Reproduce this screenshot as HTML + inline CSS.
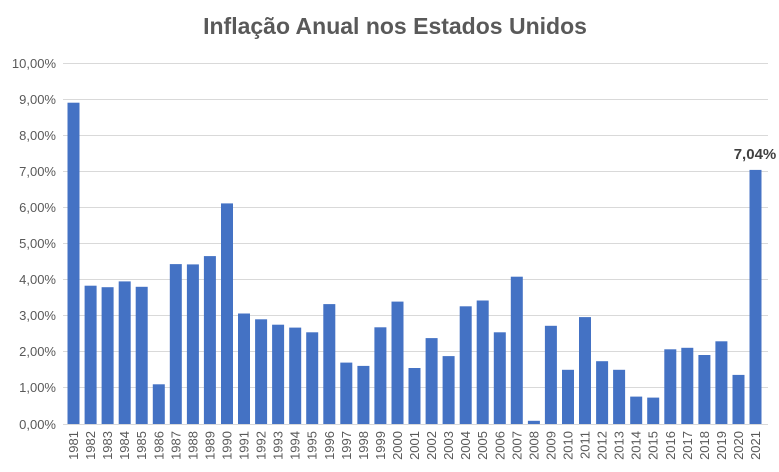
<!DOCTYPE html><html><head><meta charset="utf-8"><style>body{margin:0;background:#fff}svg{display:block;font-family:"Liberation Sans",sans-serif}</style></head><body>
<svg width="779" height="472" xmlns="http://www.w3.org/2000/svg">
<text x="395" y="34" text-anchor="middle" font-size="23" font-weight="bold" fill="#595959">Inflação Anual nos Estados Unidos</text>
<g stroke="#d9d9d9" stroke-width="1">
<line x1="63" x2="768" y1="63.5" y2="63.5"/><line x1="63" x2="768" y1="99.5" y2="99.5"/><line x1="63" x2="768" y1="135.5" y2="135.5"/><line x1="63" x2="768" y1="171.5" y2="171.5"/><line x1="63" x2="768" y1="207.5" y2="207.5"/><line x1="63" x2="768" y1="243.5" y2="243.5"/><line x1="63" x2="768" y1="279.5" y2="279.5"/><line x1="63" x2="768" y1="315.5" y2="315.5"/><line x1="63" x2="768" y1="351.5" y2="351.5"/><line x1="63" x2="768" y1="387.5" y2="387.5"/><line x1="63" x2="768" y1="424.5" y2="424.5"/></g>
<g font-size="13" fill="#595959" text-anchor="end">
<text x="56" y="68">10,00%</text><text x="56" y="104">9,00%</text><text x="56" y="140">8,00%</text><text x="56" y="176">7,00%</text><text x="56" y="212">6,00%</text><text x="56" y="248">5,00%</text><text x="56" y="284">4,00%</text><text x="56" y="320">3,00%</text><text x="56" y="356">2,00%</text><text x="56" y="392">1,00%</text><text x="56" y="429">0,00%</text></g>
<g fill="#4472c4">
<rect x="67.5" y="102.7" width="12" height="321.3"/><rect x="84.6" y="285.7" width="12" height="138.3"/><rect x="101.6" y="287.2" width="12" height="136.8"/><rect x="118.7" y="281.4" width="12" height="142.6"/><rect x="135.7" y="286.8" width="12" height="137.2"/><rect x="152.8" y="384.3" width="12" height="39.7"/><rect x="169.8" y="264.1" width="12" height="159.9"/><rect x="186.9" y="264.4" width="12" height="159.6"/><rect x="203.9" y="256.1" width="12" height="167.9"/><rect x="221" y="203.4" width="12" height="220.6"/><rect x="238" y="313.5" width="12" height="110.5"/><rect x="255.1" y="319.3" width="12" height="104.7"/><rect x="272.1" y="324.7" width="12" height="99.3"/><rect x="289.2" y="327.6" width="12" height="96.4"/><rect x="306.2" y="332.3" width="12" height="91.7"/><rect x="323.3" y="304.1" width="12" height="119.9"/><rect x="340.3" y="362.6" width="12" height="61.4"/><rect x="357.4" y="365.9" width="12" height="58.1"/><rect x="374.4" y="327.3" width="12" height="96.7"/><rect x="391.5" y="301.6" width="12" height="122.4"/><rect x="408.5" y="368" width="12" height="56"/><rect x="425.6" y="338.1" width="12" height="85.9"/><rect x="442.6" y="356.1" width="12" height="67.9"/><rect x="459.7" y="306.3" width="12" height="117.7"/><rect x="476.7" y="300.5" width="12" height="123.5"/><rect x="493.8" y="332.3" width="12" height="91.7"/><rect x="510.8" y="276.7" width="12" height="147.3"/><rect x="527.9" y="420.8" width="12" height="3.2"/><rect x="544.9" y="325.8" width="12" height="98.2"/><rect x="562" y="369.8" width="12" height="54.2"/><rect x="579" y="317.1" width="12" height="106.9"/><rect x="596.1" y="361.2" width="12" height="62.8"/><rect x="613.1" y="369.8" width="12" height="54.2"/><rect x="630.2" y="396.6" width="12" height="27.4"/><rect x="647.2" y="397.6" width="12" height="26.4"/><rect x="664.3" y="349.3" width="12" height="74.7"/><rect x="681.3" y="347.8" width="12" height="76.2"/><rect x="698.4" y="355" width="12" height="69"/><rect x="715.4" y="341.3" width="12" height="82.7"/><rect x="732.5" y="374.9" width="12" height="49.1"/><rect x="749.5" y="169.9" width="12" height="254.1"/></g>
<text x="755" y="159" text-anchor="middle" font-size="15" font-weight="bold" fill="#404040">7,04%</text>
<g font-size="13" fill="#595959" text-anchor="end">
<text transform="translate(78,431) rotate(-90)">1981</text><text transform="translate(95.1,431) rotate(-90)">1982</text><text transform="translate(112.1,431) rotate(-90)">1983</text><text transform="translate(129.2,431) rotate(-90)">1984</text><text transform="translate(146.2,431) rotate(-90)">1985</text><text transform="translate(163.3,431) rotate(-90)">1986</text><text transform="translate(180.3,431) rotate(-90)">1987</text><text transform="translate(197.4,431) rotate(-90)">1988</text><text transform="translate(214.4,431) rotate(-90)">1989</text><text transform="translate(231.5,431) rotate(-90)">1990</text><text transform="translate(248.5,431) rotate(-90)">1991</text><text transform="translate(265.6,431) rotate(-90)">1992</text><text transform="translate(282.6,431) rotate(-90)">1993</text><text transform="translate(299.7,431) rotate(-90)">1994</text><text transform="translate(316.7,431) rotate(-90)">1995</text><text transform="translate(333.8,431) rotate(-90)">1996</text><text transform="translate(350.8,431) rotate(-90)">1997</text><text transform="translate(367.9,431) rotate(-90)">1998</text><text transform="translate(384.9,431) rotate(-90)">1999</text><text transform="translate(402,431) rotate(-90)">2000</text><text transform="translate(419,431) rotate(-90)">2001</text><text transform="translate(436.1,431) rotate(-90)">2002</text><text transform="translate(453.1,431) rotate(-90)">2003</text><text transform="translate(470.2,431) rotate(-90)">2004</text><text transform="translate(487.2,431) rotate(-90)">2005</text><text transform="translate(504.3,431) rotate(-90)">2006</text><text transform="translate(521.3,431) rotate(-90)">2007</text><text transform="translate(538.4,431) rotate(-90)">2008</text><text transform="translate(555.4,431) rotate(-90)">2009</text><text transform="translate(572.5,431) rotate(-90)">2010</text><text transform="translate(589.5,431) rotate(-90)">2011</text><text transform="translate(606.6,431) rotate(-90)">2012</text><text transform="translate(623.6,431) rotate(-90)">2013</text><text transform="translate(640.7,431) rotate(-90)">2014</text><text transform="translate(657.7,431) rotate(-90)">2015</text><text transform="translate(674.8,431) rotate(-90)">2016</text><text transform="translate(691.8,431) rotate(-90)">2017</text><text transform="translate(708.9,431) rotate(-90)">2018</text><text transform="translate(725.9,431) rotate(-90)">2019</text><text transform="translate(743,431) rotate(-90)">2020</text><text transform="translate(760,431) rotate(-90)">2021</text></g>
</svg></body></html>
